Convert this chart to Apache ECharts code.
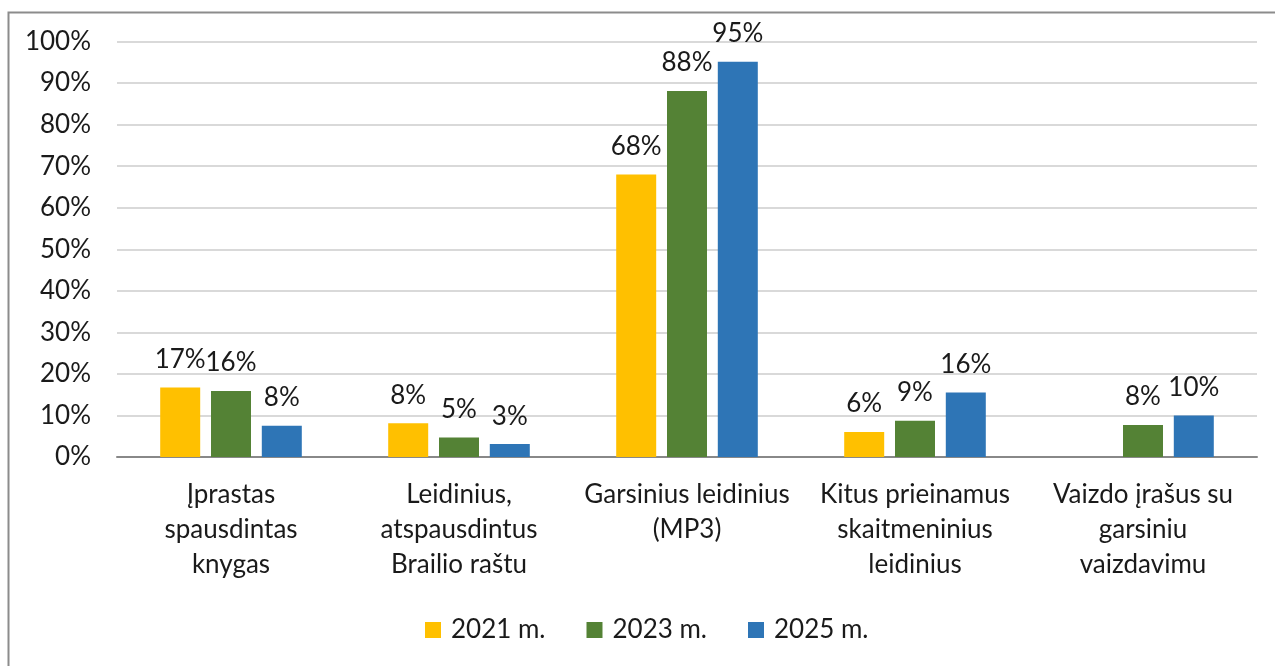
<!DOCTYPE html>
<html>
<head>
<meta charset="utf-8">
<script src="https://cdn.jsdelivr.net/npm/echarts@6/dist/echarts.min.js"></script>
<style>
html,body{margin:0;padding:0;background:#fff;}
#main{width:1275px;height:666px;}
</style>
</head>
<body>
<div id="main"></div>
<script>
const categories = [
  'Įprastas\nspausdintas\nknygas',
  'Leidinius,\natspausdintus\nBrailio raštu',
  'Garsinius leidinius\n(MP3)',
  'Kitus prieinamus\nskaitmeninius\nleidinius',
  'Vaizdo įrašus su\ngarsiniu\nvaizdavimu'
];
const seriesNames = ['2021 m.', '2023 m.', '2025 m.'];
const values2021 = [16.7, 8.1, 68.0, 6.0, null];
const values2023 = [15.9, 4.7, 88.1, 8.7, 7.7];
const values2025 = [7.5, 3.1, 95.1, 15.5, 10.0];
const yTicks = [0, 10, 20, 30, 40, 50, 60, 70, 80, 90, 100];

const colors = ['#FFC000', '#548235', '#2E75B6'];
const FONT = 'Lato';
const FS = 26;

const chart = echarts.init(document.getElementById('main'));
const mk = (name, data, color) => ({
  name, type: 'bar', data,
  barWidth: 40, barGap: '27%',
  itemStyle: { color },
  label: {
    show: true, position: 'top', distance: 15,
    color: '#1a1a1a', fontFamily: FONT, fontSize: FS,
    formatter: p => p.value == null ? '' : Math.round(p.value) + '%'
  }
});
chart.setOption({
  animation: false,
  backgroundColor: '#ffffff',
  textStyle: { fontFamily: FONT },
  graphic: [{
    type: 'rect', left: 6, top: 10, silent: true,
    shape: { x: 0, y: 0, width: 1300, height: 700 },
    style: { fill: 'none', stroke: '#8c8c8c', lineWidth: 2 }
  }],
  grid: { left: 117, right: 18, top: 41.5, bottom: 209, containLabel: false },
  legend: {
    data: seriesNames,
    left: 420, top: 612,
    itemWidth: 16, itemHeight: 16, itemGap: 41,
    icon: 'rect',
    textStyle: { fontFamily: FONT, fontSize: FS, color: '#1a1a1a', padding: [0, 0, 0, 5] }
  },
  xAxis: {
    type: 'category', data: categories,
    axisLine: { lineStyle: { color: '#888888', width: 2 } },
    axisTick: { show: false },
    axisLabel: {
      interval: 0, margin: 20, fontFamily: FONT, fontSize: FS,
      color: '#1a1a1a', lineHeight: 35, align: 'center'
    }
  },
  yAxis: {
    type: 'value', min: 0, max: 100, interval: 10,
    axisLine: { show: false }, axisTick: { show: false },
    splitLine: { lineStyle: { color: '#d9d9d9', width: 2 } },
    axisLabel: {
      margin: 26, fontFamily: FONT, fontSize: FS, color: '#1a1a1a',
      formatter: v => yTicks.includes(v) ? v + '%' : ''
    }
  },
  series: [
    mk(seriesNames[0], values2021, colors[0]),
    mk(seriesNames[1], values2023, colors[1]),
    mk(seriesNames[2], values2025, colors[2])
  ]
});
</script>
</body>
</html>
